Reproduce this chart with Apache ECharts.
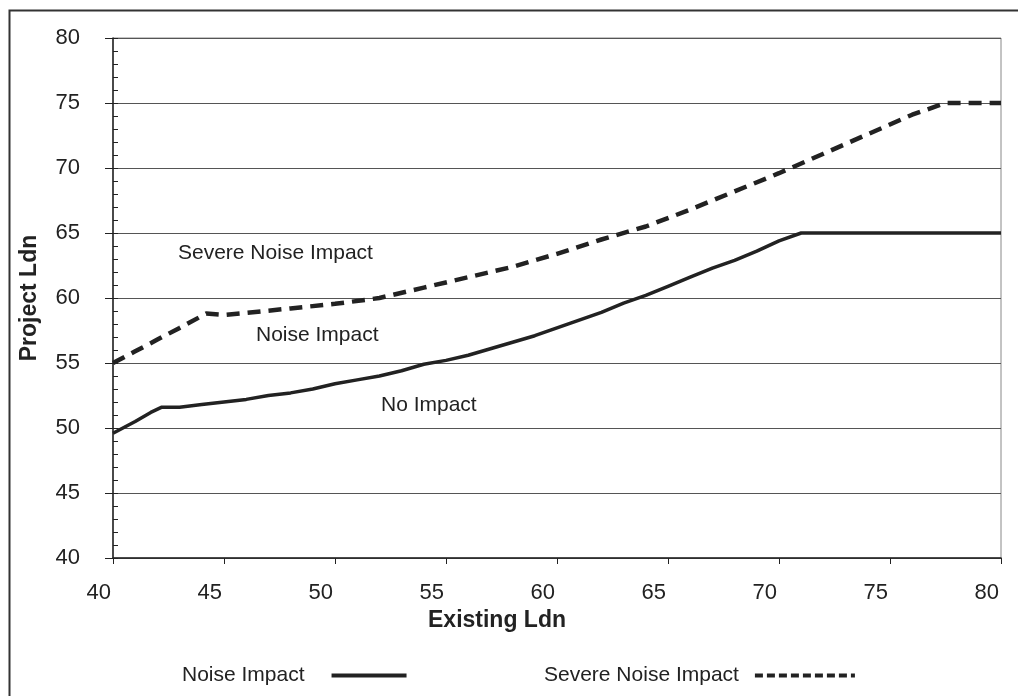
<!DOCTYPE html>
<html><head><meta charset="utf-8">
<script src="https://cdn.jsdelivr.net/npm/echarts@6/dist/echarts.min.js"></script>
<style>html,body{margin:0;padding:0;background:#fff}#c{width:1018px;height:696px}</style>
</head><body><div id="c"></div>
<script>
// Data
const noiseX = [40,41,41.7,42.2,43,44,45,46,47,48,49,50,51,52,53,54,55,56,57,58,59,60,61,62,63,64,65,66,67,68,69,70,71,80];
const noiseY = [49.6,50.5,51.2,51.6,51.6,51.8,52.0,52.2,52.5,52.7,53.0,53.4,53.7,54.0,54.4,54.9,55.2,55.6,56.1,56.6,57.1,57.7,58.3,58.9,59.6,60.2,60.9,61.6,62.3,62.9,63.6,64.4,65.0,65.0];
const severeX = [40,41,42,43,44.2,45,46,48,50,52,54,56,58,60,62,64,66,68,70,72,74,76,77.5,80];
const severeY = [55.0,55.9,56.8,57.7,58.8,58.7,58.85,59.2,59.55,60.0,60.8,61.6,62.4,63.4,64.5,65.5,66.8,68.2,69.6,71.1,72.6,74.1,75.0,75.0];
const seriesNames = ['Noise Impact','Severe Noise Impact'];
const regionLabels = ['Severe Noise Impact','Noise Impact','No Impact'];
const xTitle = 'Existing Ldn';
const yTitle = 'Project Ldn';
const axisMin = 40, axisMax = 80, axisStep = 5;

const FONT = "'Liberation Sans', Arial, sans-serif";
const zip = (xs, ys) => xs.map((x, i) => [x, ys[i]]);

const chart = echarts.init(document.getElementById('c'), null, {renderer:'canvas'});
chart.setOption({
  animation: false,
  backgroundColor: '#fff',
  grid: {left:113, top:38, right:17, bottom:138, show:true, borderColor:'#888', borderWidth:1},
  xAxis: {
    type:'value', min:axisMin, max:axisMax, interval:axisStep,
    name: xTitle, nameLocation:'middle', nameGap:48,
    nameTextStyle:{fontFamily:FONT, fontSize:23, fontWeight:'bold', color:'#222', padding:[0,120,0,0]},
    axisLine:{show:true, lineStyle:{color:'#222', width:1.5}},
    axisTick:{show:true, length:6, lineStyle:{color:'#222'}},
    axisLabel:{fontFamily:FONT, fontSize:22, color:'#222', margin:24, align:'right', padding:[0,2,0,0]},
    splitLine:{show:false}
  },
  yAxis: [{
    type:'value', min:axisMin, max:axisMax, interval:axisStep,
    name: yTitle, nameLocation:'middle', nameGap:72, nameRotate:90,
    nameTextStyle:{fontFamily:FONT, fontSize:23, fontWeight:'bold', color:'#222'},
    axisLine:{show:true, lineStyle:{color:'#222', width:1.5}},
    axisTick:{show:true, length:8, lineStyle:{color:'#222'}},
    axisLabel:{fontFamily:FONT, fontSize:22, color:'#222', margin:33},
    splitLine:{show:true, lineStyle:{color:'#555', width:1}}
  },{
    type:'value', min:axisMin, max:axisMax, interval:axisStep, position:'left', offset:0,
    axisLine:{show:false}, axisLabel:{show:false}, splitLine:{show:false},
    axisTick:{show:true, inside:true, length:5, lineStyle:{color:'#222'}},
    minorTick:{show:true, splitNumber:5, length:5, lineStyle:{color:'#222'}}
  }],
  legend: [{
    data:[seriesNames[0]], left:177, top:660, align:'right', itemWidth:75, itemHeight:14,
    textStyle:{fontFamily:FONT, fontSize:21, color:'#222', padding:[0,22,0,0]},
    itemStyle:{opacity:0},
    lineStyle:{width:4, type:'solid'}
  },{
    data:[seriesNames[1]], left:539, top:660, align:'right', itemWidth:100, itemHeight:14,
    textStyle:{fontFamily:FONT, fontSize:21, color:'#222', padding:[0,11,0,0]},
    itemStyle:{opacity:0},
    lineStyle:{width:4, type:[8,4]}
  }],
  series: [{
    type:'line', name:seriesNames[0], data:zip(noiseX, noiseY), symbol:'none', color:'#222',
    lineStyle:{color:'#222', width:3.5}
  },{
    type:'line', name:seriesNames[1], data:zip(severeX, severeY), symbol:'none', color:'#222',
    lineStyle:{color:'#222', width:4.5, type:[13,8], cap:'butt'}
  }],
  graphic: [
    {type:'rect', left:7, top:8, shape:{x:0,y:0,width:1100,height:800}, style:{fill:'none', stroke:'#333', lineWidth:2}, silent:true, z:100},
    {type:'text', left:178, top:243, style:{text:regionLabels[0], font:'21px '+FONT, fill:'#222'}},
    {type:'text', left:256, top:325, style:{text:regionLabels[1], font:'21px '+FONT, fill:'#222'}},
    {type:'text', left:381, top:395, style:{text:regionLabels[2], font:'21px '+FONT, fill:'#222'}}
  ]
});
</script></body></html>
